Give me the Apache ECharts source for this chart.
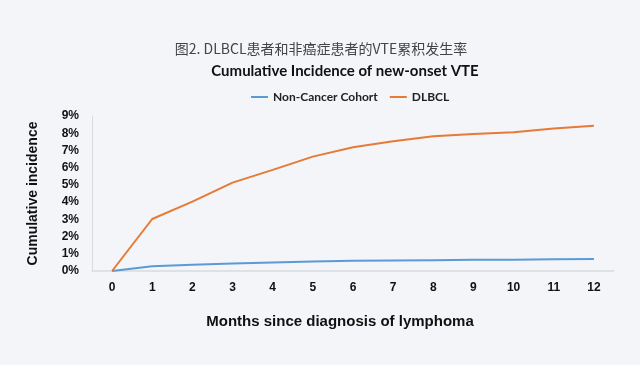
<!DOCTYPE html>
<html><head><meta charset="utf-8">
<script src="https://cdn.jsdelivr.net/npm/echarts@6/dist/echarts.min.js"></script>
<style>html,body{margin:0;padding:0;background:#f3f5f8}#c{width:640px;height:365px}</style>
</head><body><div id="c"></div>
<script>
const months = ['0','1','2','3','4','5','6','7','8','9','10','11','12'];
const nonCancer = [0, 0.28, 0.36, 0.43, 0.49, 0.55, 0.59, 0.61, 0.63, 0.65, 0.65, 0.68, 0.70];
const dlbcl = [0, 3.02, 4.03, 5.13, 5.87, 6.64, 7.18, 7.54, 7.83, 7.95, 8.06, 8.28, 8.43];
const seriesNames = ['Non-Cancer Cohort', 'DLBCL'];
const chart = echarts.init(document.getElementById('c'));
const lat = 'Lato, "Liberation Sans", sans-serif';
const ar = 'Arial, "Liberation Sans", sans-serif';
chart.setOption({
  backgroundColor: '#f3f5f8',
  animation: false,
  title: [
    {text: '图2. DLBCL患者和非癌症患者的VTE累积发生率', left: 316, top: 37, textAlign: 'center',
     textStyle: {fontFamily: '"Noto Sans CJK SC", sans-serif', fontSize: 14, fontWeight: 'normal', color: '#444'}},
    {text: 'Cumulative Incidence of new-onset VTE', left: 340, top: 59, textAlign: 'center',
     textStyle: {fontFamily: lat, fontSize: 15, fontWeight: 'bold', color: '#111'}}
  ],
  legend: {
    data: seriesNames, top: 86, left: 246, itemWidth: 17, itemHeight: 2, itemGap: 12,
    icon: 'rect',
    textStyle: {fontFamily: lat, fontSize: 12, fontWeight: 'bold', color: '#222'}
  },
  grid: {left: 92, right: 26, top: 116, bottom: 94},
  xAxis: {
    type: 'category', data: months, boundaryGap: true,
    axisLine: {lineStyle: {color: '#d9dbde', width: 1.5}}, axisTick: {show: false},
    axisLabel: {fontFamily: ar, fontSize: 12, fontWeight: 'bold', color: '#111', margin: 11},
    name: 'Months since diagnosis of lymphoma', nameLocation: 'middle', nameGap: 43,
    nameTextStyle: {fontFamily: ar, fontSize: 15, fontWeight: 'bold', color: '#111', padding: [0, 26, 0, 0]}
  },
  yAxis: {
    type: 'value', min: 0, max: 9, interval: 1,
    axisLine: {show: true, lineStyle: {color: '#d9dbde', width: 1}}, axisTick: {show: false},
    splitLine: {show: false},
    axisLabel: {formatter: '{value}%', fontFamily: ar, fontSize: 12, fontWeight: 'bold', color: '#111', margin: 13},
    name: 'Cumulative incidence', nameLocation: 'middle', nameGap: 52, nameRotate: 90,
    nameTextStyle: {fontFamily: ar, fontSize: 14, fontWeight: 'bold', color: '#111'}
  },
  series: [
    {name: seriesNames[0], type: 'line', data: nonCancer, symbol: 'none', lineStyle: {color: '#5b9bd5', width: 2}, itemStyle: {color: '#5b9bd5'}},
    {name: seriesNames[1], type: 'line', data: dlbcl, symbol: 'none', lineStyle: {color: '#e67a36', width: 2}, itemStyle: {color: '#e67a36'}}
  ]
});
</script></body></html>
